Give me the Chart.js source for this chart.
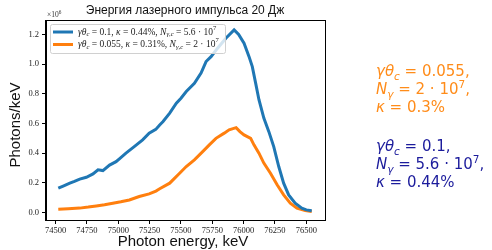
<!DOCTYPE html>
<html>
<head>
<meta charset="utf-8">
<script src="https://cdn.jsdelivr.net/npm/chart.js@4"></script>
<style>
  body { margin: 0; background: #fff; }
  #wrap { position: relative; width: 492px; height: 250px; overflow: hidden; }
  canvas { position: absolute; left: 0; top: 0; }
  .lbl { position: absolute; font-family: "Liberation Sans", sans-serif; color: #111; white-space: nowrap; }
  .note { position: absolute; left: 376px; font-family: "DejaVu Sans", sans-serif;
          font-size: 15px; line-height: 18px; white-space: nowrap; }
  .note sub, .note sup { font-size: 70%; line-height: 0; }
</style>
</head>
<body>
<div id="wrap">
  <canvas id="myChart" width="492" height="250"></canvas>
  <div class="lbl" style="left:185px;top:3px;font-size:12px;transform:translateX(-50%);">Энергия лазерного импульса 20 Дж</div>
  <div class="lbl" style="left:183px;top:232px;font-size:15px;transform:translateX(-50%);">Photon energy, keV</div>
  <div class="note" style="top:62px;color:#ff8c1a;">
    <i>γθ<sub>c</sub></i> = 0.055,<br><i>N<sub>γ</sub></i> = 2 · 10<sup>7</sup>,<br><i>κ</i> = 0.3%
  </div>
  <div class="note" style="top:137px;color:#1c1c9c;">
    <i>γθ<sub>c</sub></i> = 0.1,<br><i>N<sub>γ</sub></i> = 5.6 · 10<sup>7</sup>,<br><i>κ</i> = 0.44%
  </div>
</div>
<script>
'use strict';
// values in units of 10^6 photons/keV
const blueEnergy = [74521, 74560, 74613, 74650, 74692, 74745, 74798, 74838, 74877, 74930, 74982, 75020,
  75061, 75127, 75194, 75246, 75299, 75330, 75357, 75410, 75463, 75500, 75542, 75607, 75660, 75700,
  75740, 75792, 75858, 75924, 75960, 76003, 76043, 76069, 76096, 76122, 76161, 76201, 76240, 76280,
  76319, 76359, 76411, 76464, 76500, 76543];
const blueValues = [0.164, 0.178, 0.198, 0.21, 0.225, 0.238, 0.26, 0.288, 0.283, 0.32, 0.343, 0.37,
  0.40, 0.444, 0.49, 0.535, 0.56, 0.59, 0.613, 0.67, 0.737, 0.77, 0.815, 0.87, 0.94, 1.017,
  1.05, 1.107, 1.174, 1.23, 1.20, 1.14, 1.05, 0.983, 0.87, 0.76, 0.636, 0.545, 0.444, 0.31,
  0.198, 0.119, 0.063, 0.03, 0.018, 0.013];

const orangeEnergy = [74521, 74600, 74692, 74760, 74824, 74890, 74956, 75020, 75088, 75167, 75246,
  75300, 75330, 75410, 75489, 75542, 75607, 75673, 75726, 75779, 75845, 75884, 75940, 75970, 76003,
  76056, 76082, 76122, 76161, 76214, 76267, 76319, 76372, 76425, 76491, 76543];
const orangeValues = [0.023, 0.026, 0.03, 0.037, 0.045, 0.053, 0.063, 0.073, 0.085, 0.108, 0.126,
  0.145, 0.16, 0.198, 0.265, 0.31, 0.355, 0.41, 0.456, 0.50, 0.535, 0.557, 0.572, 0.545, 0.523,
  0.50, 0.456, 0.40, 0.333, 0.265, 0.187, 0.119, 0.063, 0.03, 0.013, 0.007];

const xTicks = [74500, 74750, 75000, 75250, 75500, 75750, 76000, 76250, 76500];
const yTicks = [0.0, 0.2, 0.4, 0.6, 0.8, 1.0, 1.2];

const legendRows = [
  { color: '#1f77b4', parts: [{ t: 'γθ', it: 1 }, { t: 'c', it: 1, sub: 1 }, { t: ' = 0.1, ' }, { t: 'κ', it: 1 },
    { t: ' = 0.44%, ' }, { t: 'N', it: 1 }, { t: 'γ,c', it: 1, sub: 1 }, { t: ' = 5.6 · 10' }, { t: '7', sup: 1 }] },
  { color: '#ff7f0e', parts: [{ t: 'γθ', it: 1 }, { t: 'c', it: 1, sub: 1 }, { t: ' = 0.055, ' }, { t: 'κ', it: 1 },
    { t: ' = 0.31%, ' }, { t: 'N', it: 1 }, { t: 'γ,c', it: 1, sub: 1 }, { t: ' = 2 · 10' }, { t: '7', sup: 1 }] },
];

function pts(xs, ys) {
  return xs.map((x, i) => ({ x: x, y: ys[i] }));
}

function richText(ctx, parts, x, y, size) {
  parts.forEach(p => {
    const s = (p.sub || p.sup) ? size * 0.7 : size;
    ctx.font = (p.it ? 'italic ' : '') + s + 'px "Liberation Serif", serif';
    const dy = p.sub ? size * 0.25 : (p.sup ? -size * 0.4 : 0);
    ctx.fillText(p.t, x, y + dy);
    x += ctx.measureText(p.t).width;
  });
}

const decor = {
  id: 'decor',
  afterDraw(chart) {
    const ctx = chart.ctx;
    const a = chart.chartArea;
    ctx.save();
    // frame
    ctx.strokeStyle = '#000';
    ctx.lineWidth = 1;
    ctx.strokeRect(Math.round(a.left) - 0.5, Math.round(a.top) - 0.5, a.right - a.left + 1, a.bottom - a.top + 1);
    // offset text
    ctx.fillStyle = '#333';
    richText(ctx, [{ t: '×10' }, { t: '6', sup: 1 }], a.left + 1, a.top - 4, 7.5);
    // y title
    ctx.save();
    ctx.translate(16, 125);
    ctx.rotate(-Math.PI / 2);
    ctx.font = '15px "Liberation Sans", sans-serif';
    ctx.fillStyle = '#111';
    ctx.textAlign = 'center';
    ctx.textBaseline = 'middle';
    ctx.fillText('Photons/keV', 0, 0);
    ctx.restore();
    // legend
    const lx = a.left + 4, ly = a.top + 3, lw = 175, lh = 29;
    ctx.beginPath();
    ctx.roundRect(lx + 0.5, ly + 0.5, lw, lh, 2);
    ctx.fillStyle = 'rgba(255,255,255,0.8)';
    ctx.fill();
    ctx.strokeStyle = '#d0d0d0';
    ctx.stroke();
    legendRows.forEach((row, i) => {
      const yy = ly + 8 + i * 12.5;
      ctx.strokeStyle = row.color;
      ctx.lineWidth = 3;
      ctx.beginPath();
      ctx.moveTo(lx + 3, yy);
      ctx.lineTo(lx + 23, yy);
      ctx.stroke();
      ctx.fillStyle = '#222';
      ctx.textBaseline = 'middle';
      richText(ctx, row.parts, lx + 28, yy, 9.5);
    });
    ctx.restore();
  }
};

const tickFont = { family: '"Liberation Serif", serif', size: 8.5 };

const ctx = document.getElementById('myChart').getContext('2d');
const myChart = new Chart(ctx, {
  type: 'line',
  data: {
    datasets: [
      {
        label: 'blue',
        data: pts(blueEnergy, blueValues),
        borderColor: '#1f77b4',
        borderWidth: 3,
        pointRadius: 0,
        tension: 0,
      },
      {
        label: 'orange',
        data: pts(orangeEnergy, orangeValues),
        borderColor: '#ff7f0e',
        borderWidth: 3,
        pointRadius: 0,
        tension: 0,
      },
    ],
  },
  options: {
    responsive: false,
    animation: false,
    layout: { padding: { top: 21, right: 167, left: 0, bottom: 0 } },
    plugins: { legend: { display: false }, tooltip: { enabled: false } },
    scales: {
      x: {
        type: 'linear',
        min: 74423,
        max: 76649,
        afterFit: s => { s.height = 30; },
        afterBuildTicks: s => { s.ticks = xTicks.map(v => ({ value: v })); },
        grid: { drawOnChartArea: false, tickLength: 4, color: '#000' },
        border: { color: '#000', width: 1 },
        ticks: { font: tickFont, color: '#222', padding: 2, maxRotation: 0, callback: v => String(v) },
      },
      y: {
        min: -0.05,
        max: 1.29,
        afterFit: s => { s.width = 46; },
        afterBuildTicks: s => { s.ticks = yTicks.map(v => ({ value: v })); },
        grid: { drawOnChartArea: false, tickLength: 4, color: '#000' },
        border: { color: '#000', width: 1 },
        ticks: { font: tickFont, color: '#222', padding: 3, callback: v => v.toFixed(1) },
      },
    },
  },
  plugins: [decor],
});
</script>
</body>
</html>
